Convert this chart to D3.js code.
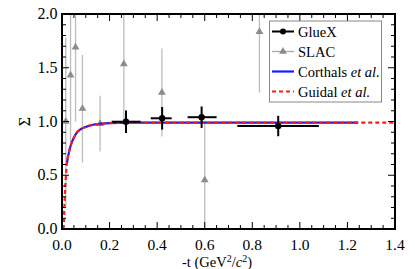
<!DOCTYPE html>
<html><head><meta charset="utf-8">
<script src="https://cdn.jsdelivr.net/npm/d3@7"></script>
<style>body{margin:0;background:#fff}svg{display:block}
svg text{font-family:"Liberation Serif","Times New Roman","DejaVu Serif",serif}</style></head>
<body>
<svg id="c" width="415" height="269"></svg>
<script>
// ---- data ----
const gluexT      = [0.269, 0.421, 0.587, 0.909];
const gluexSigma  = [0.998, 1.03, 1.04, 0.958];
const gluexTLow   = [0.209, 0.373, 0.528, 0.737];
const gluexTHigh  = [0.331, 0.461, 0.650, 1.080];
const gluexErr    = [0.105, 0.105, 0.100, 0.095];

const slacT     = [0.016, 0.036, 0.057, 0.086, 0.160, 0.260, 0.420, 0.600, 0.830];
const slacSigma = [1.00, 1.43, 1.69, 1.12, 0.98, 1.535, 1.27, 0.455, 1.835];
const slacErr   = [0.78, 0.62, 0.69, 0.50, 0.26, 0.53, 0.41, 0.55, 0.565];

const corthalsT     = [0.020, 0.025, 0.030, 0.040, 0.050, 0.060, 0.080, 0.100, 0.130, 0.160, 0.200, 0.250, 0.300, 0.500, 0.800, 1.000, 1.245];
const corthalsSigma = [0.60, 0.67, 0.72, 0.80, 0.85, 0.89, 0.93, 0.95, 0.97, 0.978, 0.985, 0.988, 0.99, 0.99, 0.99, 0.99, 0.99];

const guidalT     = [0.007, 0.010, 0.013, 0.016, 0.020, 0.025, 0.030, 0.040, 0.050, 0.060, 0.080, 0.100, 0.130, 0.160, 0.200, 0.250, 0.300, 0.500, 0.800, 1.000, 1.400];
const guidalSigma = [0.00, 0.20, 0.36, 0.48, 0.60, 0.67, 0.72, 0.80, 0.85, 0.89, 0.93, 0.95, 0.97, 0.978, 0.985, 0.988, 0.99, 0.99, 0.99, 0.99, 0.99];

const xTicks = [0, 0.2, 0.4, 0.6, 0.8, 1.0, 1.2, 1.4];
const yTicks = [0, 0.5, 1.0, 1.5, 2.0];
const legendLabels = ["GlueX", "SLAC", "Corthals", "Guidal"];

// ---- layout ----
const svg = d3.select("#c");
const L = 62, R = 395, T = 14, B = 229;
const x = d3.scaleLinear().domain([0, 1.4]).range([L, R]);
const y = d3.scaleLinear().domain([0, 2.0]).range([B, T]);

svg.append("defs").append("clipPath").attr("id", "clip")
  .append("rect").attr("x", L).attr("y", T).attr("width", R - L).attr("height", B - T);

const plot = svg.append("g").attr("clip-path", "url(#clip)");

// SLAC error bars + triangles
const tri = d3.symbol().type(d3.symbolTriangle).size(26);
slacT.forEach((t, i) => {
  plot.append("line")
    .attr("x1", x(t)).attr("x2", x(t))
    .attr("y1", y(slacSigma[i] - slacErr[i])).attr("y2", y(slacSigma[i] + slacErr[i]))
    .attr("stroke", "#bdbdbd").attr("stroke-width", 1.3);
});
slacT.forEach((t, i) => {
  plot.append("path").attr("d", tri)
    .attr("transform", `translate(${x(t)},${y(slacSigma[i])})`)
    .attr("fill", "#8c8c8c");
});

// model curves
const line = d3.line().x(d => x(d[0])).y(d => y(d[1])).curve(d3.curveMonotoneX);
plot.append("path").attr("d", line(corthalsT.map((t, i) => [t, corthalsSigma[i]])))
  .attr("fill", "none").attr("stroke", "#1a1aff").attr("stroke-width", 2.2);
plot.append("path").attr("d", line(guidalT.map((t, i) => [t, guidalSigma[i]])))
  .attr("fill", "none").attr("stroke", "#ff1a1a").attr("stroke-width", 2.2)
  .attr("stroke-dasharray", "4,3");

// GlueX points
gluexT.forEach((t, i) => {
  plot.append("line").attr("x1", x(gluexTLow[i])).attr("x2", x(gluexTHigh[i]))
    .attr("y1", y(gluexSigma[i])).attr("y2", y(gluexSigma[i]))
    .attr("stroke", "#000").attr("stroke-width", 2);
  plot.append("line").attr("x1", x(t)).attr("x2", x(t))
    .attr("y1", y(gluexSigma[i] - gluexErr[i])).attr("y2", y(gluexSigma[i] + gluexErr[i]))
    .attr("stroke", "#000").attr("stroke-width", 2);
  plot.append("circle").attr("cx", x(t)).attr("cy", y(gluexSigma[i])).attr("r", 3.2).attr("fill", "#000");
});

// ---- axes (ticks inward) ----
const xMinor = d3.range(0, 1.4001, 0.05);
const yMinor = d3.range(0, 2.0001, 0.1);
const ax = svg.append("g").attr("stroke", "#000");
xMinor.forEach(v => {
  const major = xTicks.some(m => Math.abs(m - v) < 1e-6);
  const len = major ? 7 : 4;
  ax.append("line").attr("x1", x(v)).attr("x2", x(v)).attr("y1", B).attr("y2", B - len).attr("stroke-width", 1);
  ax.append("line").attr("x1", x(v)).attr("x2", x(v)).attr("y1", T).attr("y2", T + len).attr("stroke-width", 1);
});
yMinor.forEach(v => {
  const major = yTicks.some(m => Math.abs(m - v) < 1e-6);
  const len = major ? 7 : 4;
  ax.append("line").attr("x1", L).attr("x2", L + len).attr("y1", y(v)).attr("y2", y(v)).attr("stroke-width", 1);
  ax.append("line").attr("x1", R).attr("x2", R - len).attr("y1", y(v)).attr("y2", y(v)).attr("stroke-width", 1);
});
svg.append("rect").attr("x", L).attr("y", T).attr("width", R - L).attr("height", B - T)
  .attr("fill", "none").attr("stroke", "#000").attr("stroke-width", 2);

// tick labels
svg.append("g").selectAll("text").data(xTicks).join("text")
  .attr("x", d => x(d)).attr("y", 249.5).attr("text-anchor", "middle")
  .attr("font-size", 15.5).text(d => d.toFixed(1));
svg.append("g").selectAll("text").data(yTicks).join("text")
  .attr("x", 57.5).attr("y", d => y(d) + 5).attr("text-anchor", "end")
  .attr("font-size", 16).text(d => d.toFixed(1));

// axis titles
const xt = svg.append("text").attr("x", 217).attr("y", 266.5).attr("text-anchor", "middle")
  .attr("font-size", 14.5);
xt.append("tspan").text("-t (GeV");
xt.append("tspan").attr("dy", -4.5).attr("font-size", 10).text("2");
xt.append("tspan").attr("dy", 4.5).text("/");
xt.append("tspan").attr("font-style", "italic").text("c");
xt.append("tspan").attr("dy", -4.5).attr("font-size", 10).text("2");
xt.append("tspan").attr("dy", 4.5).text(")");

svg.append("text").attr("transform", `translate(30,${y(1.0)}) rotate(-90)`)
  .attr("text-anchor", "middle").attr("font-size", 16).text("Σ");

// ---- legend ----
const lg = svg.append("g");
lg.append("rect").attr("x", 269.5).attr("y", 21).attr("width", 112).attr("height", 81)
  .attr("fill", "#fff").attr("stroke", "#888").attr("stroke-width", 1);
const rows = [31.5, 51.5, 71.5, 91.5];
const lx1 = 272, lx2 = 294, tx = 298;
// GlueX
lg.append("line").attr("x1", lx1).attr("x2", lx2).attr("y1", rows[0]).attr("y2", rows[0]).attr("stroke", "#000").attr("stroke-width", 2);
lg.append("circle").attr("cx", (lx1 + lx2) / 2).attr("cy", rows[0]).attr("r", 3).attr("fill", "#000");
// SLAC
lg.append("line").attr("x1", lx1).attr("x2", lx2).attr("y1", rows[1]).attr("y2", rows[1]).attr("stroke", "#aaa").attr("stroke-width", 1.3);
lg.append("path").attr("d", tri).attr("transform", `translate(${(lx1 + lx2) / 2},${rows[1]})`).attr("fill", "#8c8c8c");
// Corthals
lg.append("line").attr("x1", lx1).attr("x2", lx2).attr("y1", rows[2]).attr("y2", rows[2]).attr("stroke", "#1a1aff").attr("stroke-width", 2.2);
// Guidal
lg.append("line").attr("x1", lx1).attr("x2", lx2).attr("y1", rows[3]).attr("y2", rows[3]).attr("stroke", "#ff1a1a").attr("stroke-width", 2.2).attr("stroke-dasharray", "4,3");

legendLabels.forEach((lab, i) => {
  const t = lg.append("text").attr("x", tx).attr("y", rows[i] + 5).attr("font-size", 14.5);
  t.append("tspan").text(lab);
  if (i >= 2) t.append("tspan").attr("font-style", "italic").text(" et al.");
});
</script>
</body></html>
